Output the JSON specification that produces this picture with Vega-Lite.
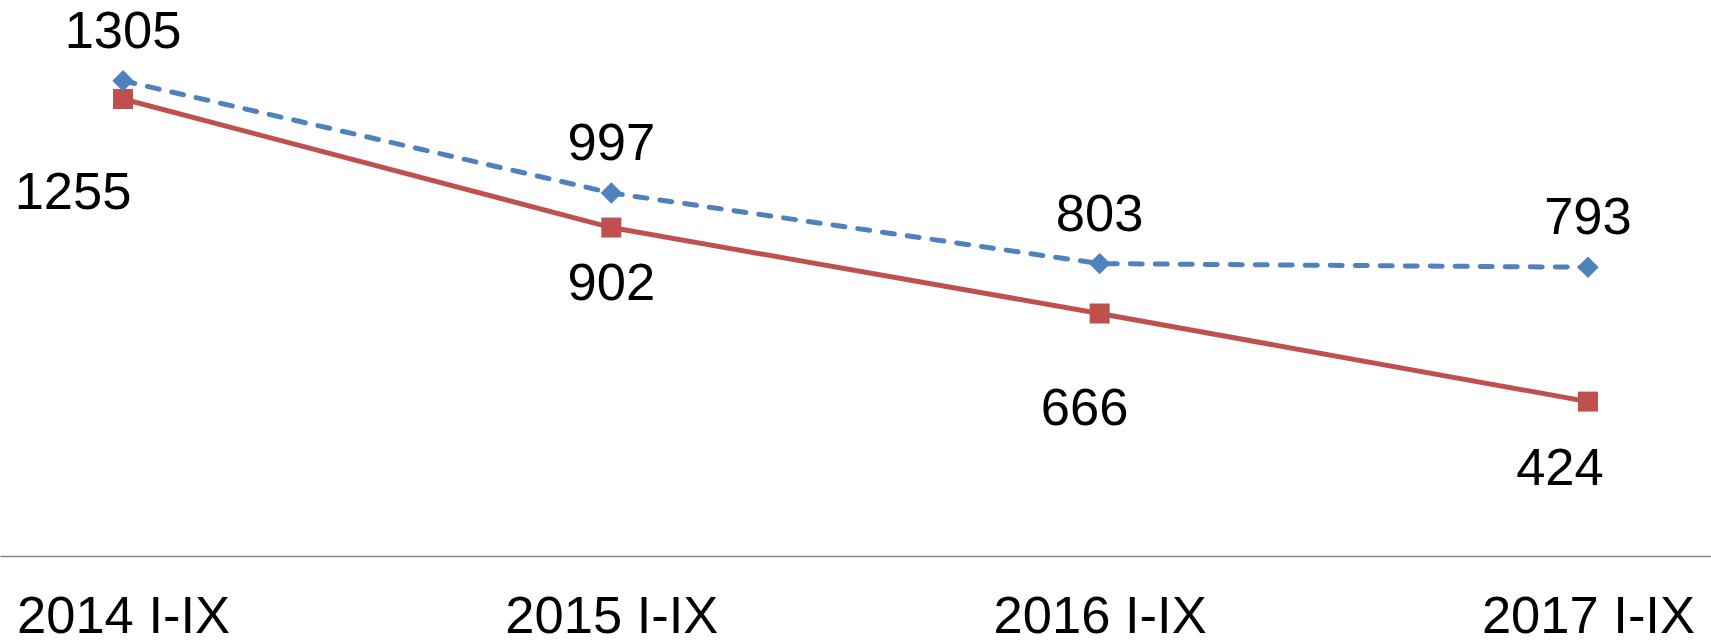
{
  "$schema": "https://vega.github.io/schema/vega-lite/v6.json",
  "width": 1711,
  "height": 556,
  "autosize": {"type": "none"},
  "padding": {"left": 0, "top": 0, "right": 0, "bottom": 84},
  "background": "white",
  "config": {"view": {"stroke": null}, "font": "Liberation Sans"},
  "data": {"values": [
    {"period": "2014 I-IX", "series": "A", "value": 1305},
    {"period": "2015 I-IX", "series": "A", "value": 997},
    {"period": "2016 I-IX", "series": "A", "value": 803},
    {"period": "2017 I-IX", "series": "A", "value": 793},
    {"period": "2014 I-IX", "series": "B", "value": 1255},
    {"period": "2015 I-IX", "series": "B", "value": 902},
    {"period": "2016 I-IX", "series": "B", "value": 666},
    {"period": "2017 I-IX", "series": "B", "value": 424}
  ]},
  "encoding": {
    "x": {"field": "period", "type": "ordinal", "sort": null,
      "scale": {"type": "point", "padding": 0.252},
      "axis": {"title": null, "ticks": false, "domainColor": "#888888", "domainWidth": 1.5,
        "labelFontSize": 52.5, "labelColor": "black", "labelPadding": 35, "labelFont": "Liberation Sans", "labelAngle": 0, "labelLimit": 0, "labelOverlap": false}},
    "y": {"field": "value", "type": "quantitative", "scale": {"domain": [0, 1527], "nice": false, "zero": true}, "axis": null}
  },
  "layer": [
    {"transform": [{"filter": "datum.series === 'B'"}],
     "mark": {"type": "line", "color": "#C0504D", "strokeWidth": 5}},
    {"transform": [{"filter": "datum.series === 'A'"}],
     "mark": {"type": "line", "color": "#4F81BD", "strokeWidth": 5, "strokeDash": [12, 13], "strokeCap": "round"}},
    {"transform": [{"filter": "datum.series === 'B'"}],
     "mark": {"type": "point", "shape": "square", "filled": true, "size": 400, "color": "#C0504D", "opacity": 1}},
    {"transform": [{"filter": "datum.series === 'A'"}],
     "mark": {"type": "point", "shape": "diamond", "filled": true, "size": 460, "color": "#4F81BD", "opacity": 1}},
    {"transform": [{"filter": "datum.series === 'A'"}],
     "mark": {"type": "text", "fontSize": 52.5, "dy": -49, "baseline": "middle", "color": "black"},
     "encoding": {"text": {"field": "value"}}},
    {"transform": [{"filter": "datum.series === 'B' && datum.period === '2014 I-IX'"}],
     "mark": {"type": "text", "fontSize": 52.5, "dx": -50, "dy": 94, "baseline": "middle", "color": "black"},
     "encoding": {"text": {"field": "value"}}},
    {"transform": [{"filter": "datum.series === 'B' && datum.period === '2015 I-IX'"}],
     "mark": {"type": "text", "fontSize": 52.5, "dx": 0, "dy": 56, "baseline": "middle", "color": "black"},
     "encoding": {"text": {"field": "value"}}},
    {"transform": [{"filter": "datum.series === 'B' && datum.period === '2016 I-IX'"}],
     "mark": {"type": "text", "fontSize": 52.5, "dx": -15, "dy": 95, "baseline": "middle", "color": "black"},
     "encoding": {"text": {"field": "value"}}},
    {"transform": [{"filter": "datum.series === 'B' && datum.period === '2017 I-IX'"}],
     "mark": {"type": "text", "fontSize": 52.5, "dx": -28, "dy": 67, "baseline": "middle", "color": "black"},
     "encoding": {"text": {"field": "value"}}}
  ]
}
